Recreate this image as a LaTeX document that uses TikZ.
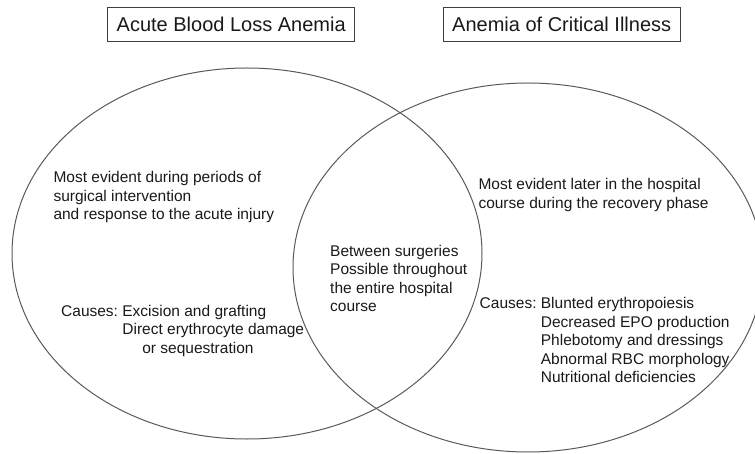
\documentclass[tikz,border=0pt]{standalone}
\usepackage{fontspec}
\setmainfont{Liberation Sans}
\frenchspacing
\begin{document}
\begin{tikzpicture}[x=1pt,y=-1pt]
	\useasboundingbox (0,0) rectangle (755,454);
	\begin{scope}[every node/.style={draw=black!75,line width=0.9pt,inner xsep=9pt,minimum height=34.4pt,text=black!90,font=\fontsize{20}{24}\selectfont}]
		\node (ablTitle) at (231.2,24.5) {Acute Blood Loss Anemia};
		\node (aciTitle) at (561.7,24.5) {Anemia of Critical Illness};
	\end{scope}
	
	\draw[black!65,line width=1pt] (247,253.5) ellipse [x radius=235,y radius=185.5];
	\draw[black!65,line width=1pt] (528,267.5) ellipse [x radius=235,y radius=184.5];
	
	\begin{scope}[every node/.style={anchor=north west,inner sep=0pt,align=left,text=black!90,font=\fontsize{15.5}{18.6}\selectfont}]
		\node (ablWhen) at (53.3,171) {Most evident during periods of\\surgical intervention\\and response to the acute injury};
		\node (ablCause) at (61,304.7) {Causes: Excision and grafting\\\hphantom{Causes:\ }Direct erythrocyte damage\\\hphantom{Causes:\ }\hspace*{20pt}or sequestration};
		\node (both) at (330,244.7) {Between surgeries\\Possible throughout\\the entire hospital\\course};
		\node (aciWhen) at (478.3,178) {Most evident later in the hospital\\course during the recovery phase};
		\node (aciCause) at (479.5,297) {Causes: Blunted erythropoiesis\\\hphantom{Causes:\ }Decreased EPO production\\\hphantom{Causes:\ }Phlebotomy and dressings\\\hphantom{Causes:\ }Abnormal RBC morphology\\\hphantom{Causes:\ }Nutritional deficiencies};
	\end{scope}
\end{tikzpicture}
\end{document}
